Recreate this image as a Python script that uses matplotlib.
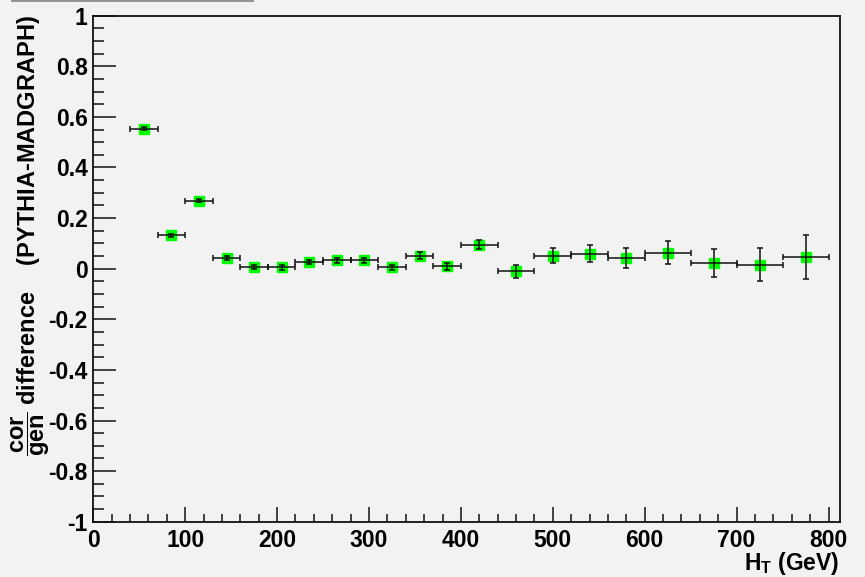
import numpy as np
import matplotlib
matplotlib.use("Agg")
import matplotlib.pyplot as plt
from matplotlib.lines import Line2D
from matplotlib.ticker import MultipleLocator, FuncFormatter

plt.rcParams['font.family'] = ['Liberation Sans', 'DejaVu Sans']
plt.rcParams['font.weight'] = 'bold'
plt.rcParams['mathtext.fontset'] = 'custom'
plt.rcParams['mathtext.rm'] = 'Liberation Sans:bold'
plt.rcParams['mathtext.bf'] = 'Liberation Sans:bold'
plt.rcParams['mathtext.it'] = 'Liberation Sans:bold'
plt.rcParams['axes.unicode_minus'] = False

# ----- DATA
bin_lo = np.array([40, 70, 100, 130, 160, 190, 220, 250, 280, 310, 340,
                   370, 400, 440, 480, 520, 560, 600, 650, 700, 750])
bin_hi = np.array([70, 100, 130, 160, 190, 220, 250, 280, 310, 340, 370,
                   400, 440, 480, 520, 560, 600, 650, 700, 750, 800])
diff = np.array([0.553, 0.132, 0.269, 0.043, 0.005, 0.005, 0.026, 0.033,
                 0.033, 0.005, 0.051, 0.009, 0.095, -0.011, 0.052, 0.059,
                 0.042, 0.064, 0.022, 0.016, 0.047])
diff_err = np.array([0.006, 0.006, 0.007, 0.008, 0.008, 0.009, 0.009, 0.010,
                     0.010, 0.011, 0.014, 0.015, 0.018, 0.024, 0.028, 0.034,
                     0.039, 0.044, 0.056, 0.066, 0.088])

centers = (bin_lo + bin_hi) / 2
bg = '#f2f2f2'

# ----- FIGURE
fig = plt.figure(figsize=(8.65, 5.77), dpi=100, facecolor=bg)
ax = fig.add_axes([93.3 / 865, 1 - 521.7 / 577, (840 - 93.3) / 865, (521.7 - 15.7) / 577])
ax.set_facecolor(bg)

# green squares, error bars drawn on top (ROOT look)
ax.plot(centers, diff, 's', color='#00ff00', mec='#00ff00', ms=6.5, zorder=2)
ax.errorbar(centers, diff, xerr=[centers - bin_lo, bin_hi - centers], yerr=diff_err,
            fmt='none', ecolor='#111111', elinewidth=1.1, capsize=2.3, capthick=1.1,
            zorder=3)

ax.set_xlim(0, 812.5)
ax.set_ylim(-1, 1)

# ----- AXES STYLE
for s in ax.spines.values():
    s.set_linewidth(1.3)
    s.set_color('#111111')

ax.xaxis.set_major_locator(MultipleLocator(100))
ax.xaxis.set_minor_locator(MultipleLocator(20))
ax.yaxis.set_major_locator(MultipleLocator(0.2))
ax.yaxis.set_minor_locator(MultipleLocator(0.05))
ax.yaxis.set_major_formatter(FuncFormatter(lambda v, p: f"{v:g}" if abs(v) > 1e-9 else "0"))

ax.tick_params(axis='both', which='both', direction='in', top=False, right=False,
               color='#111111', width=1.1, labelsize=16.5)
ax.tick_params(axis='y', which='major', length=16.5, pad=4)
ax.tick_params(axis='y', which='minor', length=8)
ax.tick_params(axis='x', which='major', length=11, pad=5)
ax.tick_params(axis='x', which='minor', length=5.6)
for lab in ax.get_xticklabels() + ax.get_yticklabels():
    lab.set_fontweight('bold')

# axis titles, ROOT style (right/top aligned)
fig.text(839 / 865, 1 - 570 / 577, r"$\mathbf{H_{T}}$ (GeV)", ha='right', va='baseline',
         fontsize=16.5, fontweight='bold')
fig.text(31 / 865, 1 - 15 / 577,
         r"$\mathbf{\dfrac{cor}{gen}}$ difference    (PYTHIA-MADGRAPH)",
         rotation=90, ha='center', va='top', fontsize=17, fontweight='bold')

# leftover edge of the title box at the top
fig.add_artist(Line2D([12 / 865, 253 / 865], [1 - 0.7 / 577, 1 - 0.7 / 577],
                      transform=fig.transFigure, color='#8a8a8a', lw=1.3))

fig.savefig('out.png', dpi=100, facecolor=bg)
